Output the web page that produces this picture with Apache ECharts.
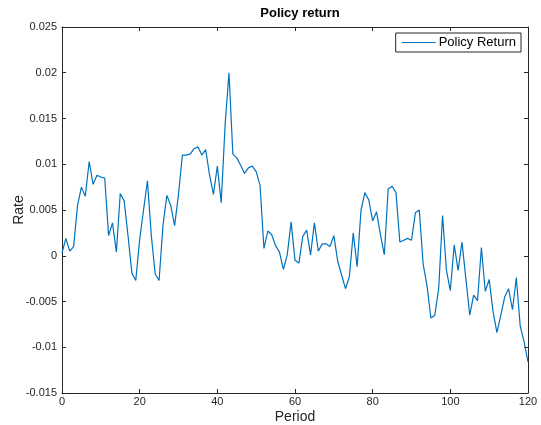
<!DOCTYPE html>
<html>
<head>
<meta charset="utf-8">
<script src="https://cdn.jsdelivr.net/npm/echarts@6/dist/echarts.min.js"></script>
<style>html,body{margin:0;padding:0;background:#fff}#c{width:541px;height:425px}</style>
</head>
<body>
<div id="c"></div>
<script>
var seriesName = 'Policy Return';
var titleText = 'Policy return';
var xTicks = [0, 20, 40, 60, 80, 100, 120];
var yTicks = [-0.015, -0.01, -0.005, 0, 0.005, 0.01, 0.015, 0.02, 0.025];
var policyReturn = [
  0.0003, 0.0019, 0.0005, 0.0010, 0.0055, 0.0075, 0.0065, 0.0103, 0.0078, 0.0088,
  0.0086, 0.0085, 0.0022, 0.0036, 0.0004, 0.0068, 0.0060, 0.0022, -0.0019, -0.0027,
  0.0018, 0.0050, 0.0082, 0.0022, -0.0020, -0.0027, 0.0033, 0.0066, 0.0055, 0.0033,
  0.0067, 0.0110, 0.0110, 0.0111, 0.0117, 0.0119, 0.0110, 0.0116, 0.0088, 0.0067,
  0.0098, 0.0058, 0.0143, 0.0200, 0.0111, 0.0107, 0.0099, 0.0090, 0.0096, 0.0098,
  0.0092, 0.0077, 0.0008, 0.0027, 0.0023, 0.0011, 0.0004, -0.0015, 0.0001, 0.0037,
  -0.0005, -0.0008, 0.0021, 0.0028, 0.0001, 0.0036, 0.0005, 0.0013, 0.0013, 0.0010,
  0.0022, -0.0006, -0.0021, -0.0036, -0.0023, 0.0025, -0.0012, 0.0050, 0.0069, 0.0061,
  0.0038, 0.0048, 0.0023, 0.0001, 0.0073, 0.0076, 0.0069, 0.0015, 0.0017, 0.0019,
  0.0017, 0.0047, 0.0050, -0.0009, -0.0033, -0.0068, -0.0065, -0.0036, 0.0044, -0.0016,
  -0.0038, 0.0012, -0.0016, 0.0015, -0.0025, -0.0065, -0.0043, -0.0049, 0.0009, -0.0039,
  -0.0026, -0.0061, -0.0084, -0.0065, -0.0045, -0.0036, -0.0059, -0.0024, -0.0077, -0.0094,
  -0.0116
];

var data = policyReturn.map(function (v, i) { return [i, v]; });
var font = 'Liberation Sans, Arial, Helvetica, sans-serif';
var axisLine = { show: true, onZero: false, lineStyle: { color: '#262626', width: 1 } };
var tickIn = { show: true, inside: true, length: 4, lineStyle: { color: '#262626' } };

var chart = echarts.init(document.getElementById('c'));
chart.setOption({
  animation: false,
  backgroundColor: '#fff',
  title: {
    text: titleText, left: 295, top: 2, textAlign: 'center',
    textStyle: { fontFamily: font, fontSize: 13, fontWeight: 'bold', color: '#000' }
  },
  legend: {
    data: [seriesName], right: 20, top: 33,
    orient: 'vertical',
    borderColor: '#262626', borderWidth: 1, backgroundColor: '#fff',
    padding: [3, 5, 3, 6], itemGap: 0, itemWidth: 34, itemHeight: 12,
    icon: 'path://M0,6 L34,6 L34,7 L0,7 Z',
    textStyle: { fontFamily: font, fontSize: 13, color: '#000', padding: [0, 0, 0, -2] }
  },
  grid: { left: 62, right: 13, top: 27, bottom: 32, containLabel: false, outerBoundsMode: 'none' },
  xAxis: [{
    type: 'value', min: xTicks[0], max: xTicks[xTicks.length - 1], interval: 20,
    name: 'Period', nameLocation: 'middle', nameGap: 17, nameMoveOverlap: false,
    nameTextStyle: { fontFamily: font, fontSize: 14, color: '#262626' },
    axisLine: axisLine, axisTick: tickIn, splitLine: { show: false },
    axisLabel: { fontFamily: font, fontSize: 11, color: '#262626', margin: 3 }
  }, {
    type: 'value', position: 'top', min: xTicks[0], max: xTicks[xTicks.length - 1], interval: 20,
    axisLine: axisLine, axisTick: tickIn, splitLine: { show: false }, axisLabel: { show: false }
  }],
  yAxis: [{
    type: 'value', min: yTicks[0], max: yTicks[yTicks.length - 1], interval: 0.005,
    name: 'Rate', nameLocation: 'middle', nameGap: 36, nameRotate: 90, nameMoveOverlap: false,
    nameTextStyle: { fontFamily: font, fontSize: 14, color: '#262626' },
    axisLine: axisLine, axisTick: tickIn, splitLine: { show: false },
    axisLabel: {
      fontFamily: font, fontSize: 11, color: '#262626', margin: 5,
      formatter: function (v) { return String(+v.toFixed(3)); }
    }
  }, {
    type: 'value', position: 'right', min: yTicks[0], max: yTicks[yTicks.length - 1], interval: 0.005,
    axisLine: axisLine, axisTick: tickIn, splitLine: { show: false }, axisLabel: { show: false }
  }],
  series: [{
    name: seriesName, type: 'line', data: data, symbol: 'none',
    lineStyle: { color: '#0072BD', width: 1.2 }, itemStyle: { color: '#0072BD' }
  }]
});
</script>
</body>
</html>
